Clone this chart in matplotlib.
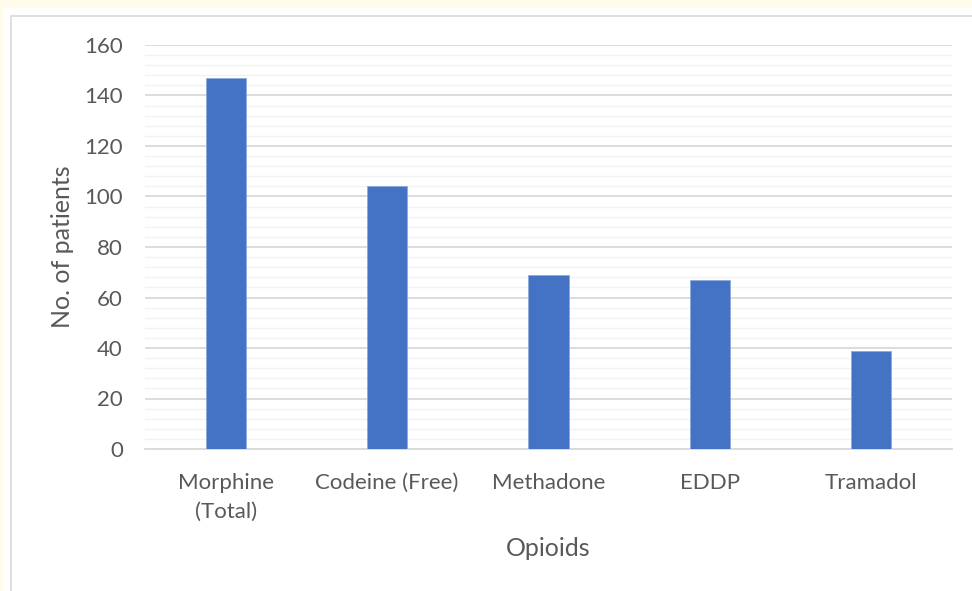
import matplotlib
matplotlib.use("Agg")
import matplotlib.pyplot as plt
from matplotlib.patches import Rectangle
from matplotlib.ticker import MultipleLocator

categories = ["Morphine\n(Total)", "Codeine (Free)", "Methadone", "EDDP", "Tramadol"]
patients = [147, 104, 69, 67, 39]
y_ticks = [0, 20, 40, 60, 80, 100, 120, 140, 160]

plt.rcParams["font.family"] = ["Lato", "DejaVu Sans"]
text_color = "#595959"
bar_color = "#4472C4"

W, H = 972, 591
fig = plt.figure(figsize=(W / 100, H / 100), dpi=100)
fig.patch.set_facecolor("#FFFBEA")

# white chart panel with a thin grey frame
fig.add_artist(Rectangle((3 / W, 0), 1, 1 - 8 / H, transform=fig.transFigure,
                         facecolor="white", edgecolor="none", zorder=-2))
fig.add_artist(Rectangle((11 / W, -0.1), 1.2, 1.1 - 16 / H, transform=fig.transFigure,
                         facecolor="none", edgecolor="#D9D9D9", linewidth=1.2, zorder=-1))

left, right, top, bottom = 145, 952, 45, 449
ax = fig.add_axes([left / W, 1 - bottom / H, (right - left) / W, (bottom - top) / H])
ax.set_zorder(2)
ax.set_facecolor("none")

x = range(len(categories))
ax.bar(x, patients, width=0.25, color=bar_color, edgecolor="#8EA9DB", linewidth=0.6, zorder=3)

ax.set_xlim(-0.5, len(categories) - 0.5)
ax.set_ylim(0, 160)
ax.set_yticks(y_ticks)
ax.yaxis.set_minor_locator(MultipleLocator(4))
ax.set_xticks(list(x))
ax.set_xticklabels(categories, linespacing=1.6)

ax.grid(axis="y", which="major", color="#D9D9D9", linewidth=1.3, zorder=1)
ax.grid(axis="y", which="minor", color="#F2F2F2", linewidth=1.0, zorder=1)
ax.set_axisbelow(True)

for s in ["top", "right", "left"]:
    ax.spines[s].set_visible(False)
ax.spines["bottom"].set_color("#D9D9D9")
ax.spines["bottom"].set_linewidth(1.3)

ax.tick_params(axis="both", which="both", length=0, colors=text_color, labelsize=16)
ax.tick_params(axis="y", pad=16)
ax.tick_params(axis="x", pad=17)

ax.set_ylabel("No. of patients", fontsize=18, color=text_color, labelpad=7)
ax.set_xlabel("Opioids", fontsize=18, color=text_color, labelpad=11)

fig.savefig("out.png", dpi=100, facecolor=fig.get_facecolor())
